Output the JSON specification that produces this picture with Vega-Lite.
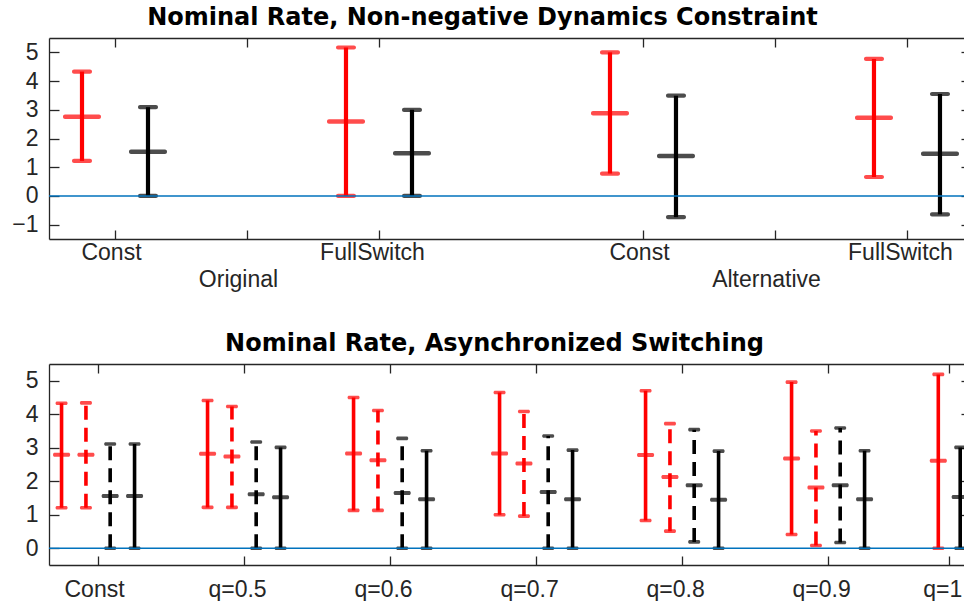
{
  "$schema": "https://vega.github.io/schema/vega-lite/v6.json",
  "background": "white",
  "padding": {"left": 0, "top": 6, "right": 0, "bottom": 0},
  "spacing": 41,
  "config": {
    "view": {"stroke": null},
    "font": "Liberation Sans",
    "axis": {"grid": false, "labelFont": "Liberation Sans", "labelFontSize": 23, "labelColor": "#262626", "domainColor": "#262626", "tickColor": "#262626", "domainWidth": 1.3, "tickWidth": 1.3, "title": null},
    "title": {"font": "DejaVu Sans", "fontSize": 24, "fontWeight": "bold", "color": "#000000", "baseline": "alphabetic", "offset": 7, "frame": "group", "anchor": "middle"}
  },
  "datasets": {
    "top": [
      {"group": "Original", "case": "Const", "series": "Series A", "x": 0.75, "lo": 1.22, "mid": 2.76, "hi": 4.33},
      {"group": "Original", "case": "Const", "series": "Series B", "x": 1.25, "lo": 0.0, "mid": 1.54, "hi": 3.09},
      {"group": "Original", "case": "FullSwitch", "series": "Series A", "x": 2.75, "lo": 0.0, "mid": 2.59, "hi": 5.17},
      {"group": "Original", "case": "FullSwitch", "series": "Series B", "x": 3.25, "lo": 0.0, "mid": 1.49, "hi": 3.0},
      {"group": "Alternative", "case": "Const", "series": "Series A", "x": 4.75, "lo": 0.78, "mid": 2.88, "hi": 5.0},
      {"group": "Alternative", "case": "Const", "series": "Series B", "x": 5.25, "lo": -0.74, "mid": 1.39, "hi": 3.49},
      {"group": "Alternative", "case": "FullSwitch", "series": "Series A", "x": 6.75, "lo": 0.66, "mid": 2.72, "hi": 4.77},
      {"group": "Alternative", "case": "FullSwitch", "series": "Series B", "x": 7.25, "lo": -0.64, "mid": 1.47, "hi": 3.55}
    ],
    "bottom": [
      {"case": "Const", "series": "Series A", "switching": "Synchronized", "x": 0.375, "lo": 1.21, "mid": 2.79, "hi": 4.33},
      {"case": "Const", "series": "Series A", "switching": "Asynchronized", "x": 0.3917, "lo": 1.21, "mid": 2.79, "hi": 4.34},
      {"case": "Const", "series": "Series B", "switching": "Asynchronized", "x": 0.4083, "lo": 0.0, "mid": 1.56, "hi": 3.11},
      {"case": "Const", "series": "Series B", "switching": "Synchronized", "x": 0.425, "lo": 0.0, "mid": 1.56, "hi": 3.11},
      {"case": "q=0.5", "series": "Series A", "switching": "Synchronized", "x": 0.475, "lo": 1.22, "mid": 2.82, "hi": 4.41},
      {"case": "q=0.5", "series": "Series A", "switching": "Asynchronized", "x": 0.4917, "lo": 1.22, "mid": 2.74, "hi": 4.23},
      {"case": "q=0.5", "series": "Series B", "switching": "Asynchronized", "x": 0.5083, "lo": 0.0, "mid": 1.61, "hi": 3.17},
      {"case": "q=0.5", "series": "Series B", "switching": "Synchronized", "x": 0.525, "lo": 0.0, "mid": 1.52, "hi": 3.01},
      {"case": "q=0.6", "series": "Series A", "switching": "Synchronized", "x": 0.575, "lo": 1.13, "mid": 2.83, "hi": 4.5},
      {"case": "q=0.6", "series": "Series A", "switching": "Asynchronized", "x": 0.5917, "lo": 1.13, "mid": 2.63, "hi": 4.11},
      {"case": "q=0.6", "series": "Series B", "switching": "Asynchronized", "x": 0.6083, "lo": 0.0, "mid": 1.65, "hi": 3.28},
      {"case": "q=0.6", "series": "Series B", "switching": "Synchronized", "x": 0.625, "lo": 0.0, "mid": 1.46, "hi": 2.91},
      {"case": "q=0.7", "series": "Series A", "switching": "Synchronized", "x": 0.675, "lo": 1.0, "mid": 2.83, "hi": 4.65},
      {"case": "q=0.7", "series": "Series A", "switching": "Asynchronized", "x": 0.6917, "lo": 0.96, "mid": 2.53, "hi": 4.08},
      {"case": "q=0.7", "series": "Series B", "switching": "Asynchronized", "x": 0.7083, "lo": 0.0, "mid": 1.68, "hi": 3.35},
      {"case": "q=0.7", "series": "Series B", "switching": "Synchronized", "x": 0.725, "lo": 0.0, "mid": 1.46, "hi": 2.93},
      {"case": "q=0.8", "series": "Series A", "switching": "Synchronized", "x": 0.775, "lo": 0.83, "mid": 2.78, "hi": 4.7},
      {"case": "q=0.8", "series": "Series A", "switching": "Asynchronized", "x": 0.7917, "lo": 0.51, "mid": 2.13, "hi": 3.72},
      {"case": "q=0.8", "series": "Series B", "switching": "Asynchronized", "x": 0.8083, "lo": 0.19, "mid": 1.88, "hi": 3.54},
      {"case": "q=0.8", "series": "Series B", "switching": "Synchronized", "x": 0.825, "lo": 0.0, "mid": 1.45, "hi": 2.9},
      {"case": "q=0.9", "series": "Series A", "switching": "Synchronized", "x": 0.875, "lo": 0.41, "mid": 2.68, "hi": 4.96},
      {"case": "q=0.9", "series": "Series A", "switching": "Asynchronized", "x": 0.8917, "lo": 0.08, "mid": 1.81, "hi": 3.5},
      {"case": "q=0.9", "series": "Series B", "switching": "Asynchronized", "x": 0.9083, "lo": 0.17, "mid": 1.88, "hi": 3.59},
      {"case": "q=0.9", "series": "Series B", "switching": "Synchronized", "x": 0.925, "lo": 0.0, "mid": 1.46, "hi": 2.91},
      {"case": "q=1", "series": "Series A", "switching": "Synchronized", "x": 0.9755, "lo": 0.0, "mid": 2.61, "hi": 5.19},
      {"case": "q=1", "series": "Series B", "switching": "Synchronized", "x": 0.9905, "lo": 0.0, "mid": 1.53, "hi": 3.01}
    ]
  },
  "vconcat": [
    {
      "width": 915,
      "height": 201,
      "title": {"text": "Nominal Rate, Non-negative Dynamics Constraint", "dx": -24},
      "data": {"name": "top"},
      "resolve": {"axis": {"x": "independent", "y": "independent"}},
      "layer": [
        {
          "mark": {"type": "rule", "strokeWidth": 4.2, "clip": true},
          "encoding": {
            "x": {"field": "x", "type": "quantitative", "scale": {"domain": [0.5, 7.432], "nice": false, "zero": false},
              "axis": {"orient": "bottom", "values": [1, 2, 3, 5, 6, 7], "tickSize": -9, "labelPadding": 11, "labelBaseline": "top", "labelLineHeight": 27, "labelOverlap": false, "labelFlush": false, "labelBound": false,
                "labelExpr": "datum.value == 1 || datum.value == 5 ? 'Const' : (datum.value == 3 || datum.value == 7 ? 'FullSwitch' : (datum.value == 2 ? ['', 'Original'] : (datum.value == 6 ? ['', 'Alternative'] : '')))",
                "labelOffset": {"condition": [{"test": "datum.value == 2 || datum.value == 6", "value": -9}, {"test": "datum.value == 3 || datum.value == 7", "value": -7}], "value": -4}}},
            "y": {"field": "lo", "type": "quantitative", "scale": {"domain": [-1.5, 5.5], "nice": false, "zero": false},
              "axis": {"orient": "left", "values": [-1, 0, 1, 2, 3, 4, 5], "tickSize": -10, "labelPadding": 21, "minExtent": 49, "maxExtent": 49}},
            "y2": {"field": "hi"},
            "color": {"field": "series", "type": "nominal", "scale": {"domain": ["Series A", "Series B"], "range": ["#ff0000", "#000000"]}, "legend": null}
          }
        },
        {
          "mark": {"type": "tick", "orient": "horizontal", "size": 20, "thickness": 4.2, "cornerRadius": 2, "clip": true},
          "encoding": {
            "x": {"field": "x", "type": "quantitative", "axis": null},
            "y": {"field": "lo", "type": "quantitative", "axis": null},
            "color": {"field": "series", "type": "nominal", "legend": null}
          }
        },
        {
          "mark": {"type": "tick", "orient": "horizontal", "size": 20, "thickness": 4.2, "cornerRadius": 2, "clip": true},
          "encoding": {
            "x": {"field": "x", "type": "quantitative", "axis": null},
            "y": {"field": "hi", "type": "quantitative", "axis": null},
            "color": {"field": "series", "type": "nominal", "legend": null}
          }
        },
        {
          "mark": {"type": "tick", "orient": "horizontal", "size": 38, "thickness": 4.5, "cornerRadius": 2, "clip": true},
          "encoding": {
            "x": {"field": "x", "type": "quantitative", "scale": {"domain": [0.5, 7.432], "nice": false, "zero": false},
              "axis": {"orient": "top", "values": [1, 2, 3, 5, 6, 7], "tickSize": -9, "labels": false, "minExtent": 0, "maxExtent": 0}},
            "y": {"field": "mid", "type": "quantitative", "scale": {"domain": [-1.5, 5.5], "nice": false, "zero": false},
              "axis": {"orient": "right", "values": [-1, 0, 1, 2, 3, 4, 5], "tickSize": -3, "labels": false, "domain": false, "minExtent": 0, "maxExtent": 0}},
            "color": {"field": "series", "type": "nominal", "legend": null}
          }
        },
        {
          "data": {"values": [{"reference": "zero"}]},
          "mark": {"type": "rule", "color": "#0072BD", "strokeWidth": 1.5},
          "encoding": {"y": {"datum": 0, "type": "quantitative", "axis": null}}
        }
      ]
    },
    {
      "width": 915,
      "height": 201,
      "title": {"text": "Nominal Rate, Asynchronized Switching", "dx": -12},
      "data": {"name": "bottom"},
      "resolve": {"axis": {"x": "independent", "y": "independent"}},
      "layer": [
        {
          "mark": {"type": "rule", "strokeWidth": 3.6, "clip": true},
          "encoding": {
            "x": {"field": "x", "type": "quantitative", "scale": {"domain": [0.3664, 0.9931], "nice": false, "zero": false},
              "axis": {"orient": "bottom", "values": [0.4, 0.5, 0.6, 0.7, 0.8, 0.9, 0.983], "tickSize": -9, "labelPadding": 22, "labelBaseline": "top", "labelOverlap": false, "labelFlush": false, "labelBound": false,
                "labelExpr": "datum.value < 0.45 ? 'Const' : (datum.value > 0.95 ? 'q=1' : 'q=' + format(datum.value, '.1f'))",
                "labelOffset": {"condition": {"test": "datum.value < 0.45", "value": -4}, "value": -7}}},
            "y": {"field": "lo", "type": "quantitative", "scale": {"domain": [-0.5, 5.5], "nice": false, "zero": false},
              "axis": {"orient": "left", "values": [0, 1, 2, 3, 4, 5], "tickSize": -10, "labelPadding": 21, "minExtent": 49, "maxExtent": 49}},
            "y2": {"field": "hi"},
            "color": {"field": "series", "type": "nominal", "scale": {"domain": ["Series A", "Series B"], "range": ["#ff0000", "#000000"]}, "legend": null},
            "strokeDash": {"field": "switching", "type": "nominal", "scale": {"domain": ["Synchronized", "Asynchronized"], "range": [[1, 0], [14, 8]]}, "legend": null}
          }
        },
        {
          "mark": {"type": "tick", "orient": "horizontal", "size": 12, "thickness": 3.6, "cornerRadius": 1.5, "clip": true},
          "encoding": {
            "x": {"field": "x", "type": "quantitative", "axis": null},
            "y": {"field": "lo", "type": "quantitative", "axis": null},
            "color": {"field": "series", "type": "nominal", "legend": null}
          }
        },
        {
          "mark": {"type": "tick", "orient": "horizontal", "size": 12, "thickness": 3.6, "cornerRadius": 1.5, "clip": true},
          "encoding": {
            "x": {"field": "x", "type": "quantitative", "axis": null},
            "y": {"field": "hi", "type": "quantitative", "axis": null},
            "color": {"field": "series", "type": "nominal", "legend": null}
          }
        },
        {
          "mark": {"type": "tick", "orient": "horizontal", "size": 17, "thickness": 4, "cornerRadius": 1.5, "clip": true},
          "encoding": {
            "x": {"field": "x", "type": "quantitative", "scale": {"domain": [0.3664, 0.9931], "nice": false, "zero": false},
              "axis": {"orient": "top", "values": [0.4, 0.5, 0.6, 0.7, 0.8, 0.9, 0.983], "tickSize": -9, "labels": false, "minExtent": 0, "maxExtent": 0}},
            "y": {"field": "mid", "type": "quantitative", "scale": {"domain": [-0.5, 5.5], "nice": false, "zero": false},
              "axis": {"orient": "right", "values": [0, 1, 2, 3, 4, 5], "tickSize": -3, "labels": false, "domain": false, "minExtent": 0, "maxExtent": 0}},
            "color": {"field": "series", "type": "nominal", "legend": null}
          }
        },
        {
          "data": {"values": [{"reference": "zero"}]},
          "mark": {"type": "rule", "color": "#0072BD", "strokeWidth": 1.5},
          "encoding": {"y": {"datum": 0, "type": "quantitative", "axis": null}}
        }
      ]
    }
  ]
}
